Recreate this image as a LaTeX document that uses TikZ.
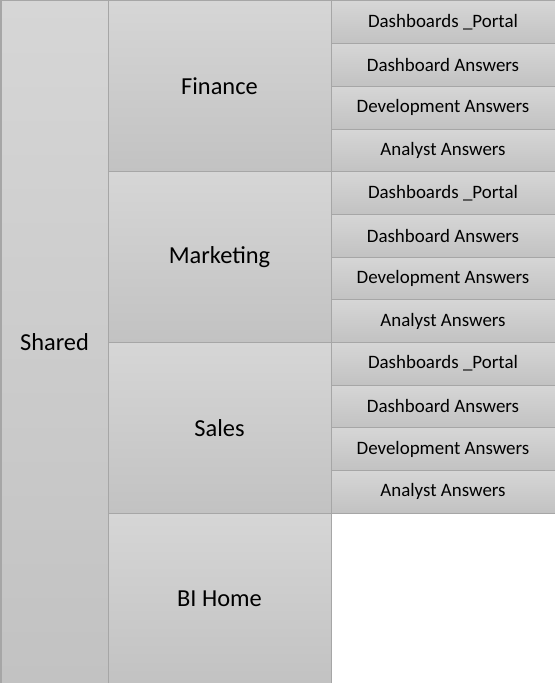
\documentclass[tikz,border=0pt]{standalone}
\usepackage{fontspec}
\setmainfont{Carlito}
\usetikzlibrary{positioning}

\definecolor{cellline}{HTML}{A6A6A6}
\definecolor{celltop}{HTML}{D6D6D6}
\definecolor{cellbot}{HTML}{C2C2C2}

\tikzset{
  cell/.style={draw=cellline, line width=1bp, rectangle, inner sep=0pt,
    anchor=north west, top color=celltop, bottom color=cellbot,
    text=black},
  bigcell/.style={cell, font=\fontsize{24.5}{28}\selectfont},
  leafcell/.style={cell, font=\fontsize{19}{22}\selectfont,
    minimum width=224bp, minimum height=42.67bp},
}

\begin{document}
\begin{tikzpicture}[x=1bp,y=-1bp]
  \useasboundingbox (0,0) rectangle (555,683);
%%
  % Node: Shared
  \node [bigcell, minimum width=107bp, minimum height=682bp] (shared) at (0.5,0.5) {Shared};
  % Node: Finance
  \node [bigcell, minimum width=223bp, minimum height=170.67bp] (finance) at (107.5,0.5) {Finance};
  % Node: Marketing
  \node [bigcell, minimum width=223bp, minimum height=170.67bp] (marketing) at (107.5,171.17) {Marketing};
  % Node: Sales
  \node [bigcell, minimum width=223bp, minimum height=170.67bp] (sales) at (107.5,341.83) {Sales};
  % Node: BIHome
  \node [bigcell, minimum width=223bp, minimum height=170.5bp] (bihome) at (107.5,512.5) {BI Home};
%
  % Node: FinPortal
  \node [leafcell] (finportal) at (330.5,0.5) {Dashboards \_Portal};
  % Node: FinDash
  \node [leafcell] (findash) at (330.5,43.17) {Dashboard Answers};
  % Node: FinDev
  \node [leafcell] (findev) at (330.5,85.83) {Development Answers};
  % Node: FinAnalyst
  \node [leafcell] (finanalyst) at (330.5,128.5) {Analyst Answers};
%
  % Node: MktPortal
  \node [leafcell] (mktportal) at (330.5,171.17) {Dashboards \_Portal};
  % Node: MktDash
  \node [leafcell] (mktdash) at (330.5,213.83) {Dashboard Answers};
  % Node: MktDev
  \node [leafcell] (mktdev) at (330.5,256.5) {Development Answers};
  % Node: MktAnalyst
  \node [leafcell] (mktanalyst) at (330.5,299.17) {Analyst Answers};
%
  % Node: SalPortal
  \node [leafcell] (salportal) at (330.5,341.83) {Dashboards \_Portal};
  % Node: SalDash
  \node [leafcell] (saldash) at (330.5,384.5) {Dashboard Answers};
  % Node: SalDev
  \node [leafcell] (saldev) at (330.5,427.17) {Development Answers};
  % Node: SalAnalyst
  \node [leafcell] (salanalyst) at (330.5,469.83) {Analyst Answers};
%
\end{tikzpicture}
\end{document}
